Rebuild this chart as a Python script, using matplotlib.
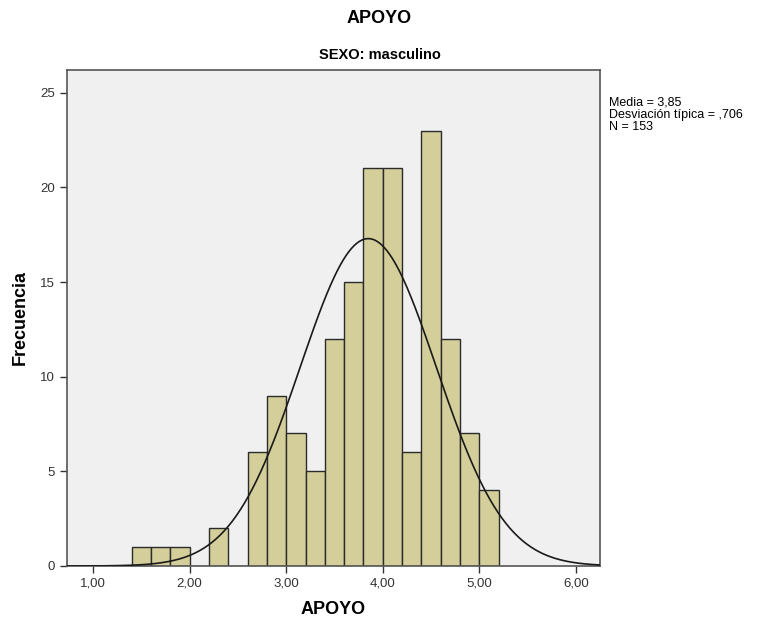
import numpy as np
import matplotlib
matplotlib.use("Agg")
import matplotlib.pyplot as plt

plt.rcParams["font.family"] = ["Liberation Sans", "DejaVu Sans"]

# histogram data (bin left edges, width 0.2)
bin_left = [1.4, 1.6, 1.8, 2.0, 2.2, 2.4, 2.6, 2.8, 3.0, 3.2, 3.4, 3.6,
            3.8, 4.0, 4.2, 4.4, 4.6, 4.8, 5.0]
counts = [1, 1, 1, 0, 2, 0, 6, 9, 7, 5, 12, 15, 21, 21, 6, 23, 12, 7, 4]
bin_width = 0.2
mean = 3.85
sd = 0.706
n = 153
x_ticks = [1, 2, 3, 4, 5, 6]
x_labels = ["1,00", "2,00", "3,00", "4,00", "5,00", "6,00"]
y_ticks = [0, 5, 10, 15, 20, 25]

fig = plt.figure(figsize=(7.59, 6.27), dpi=100)
ax = fig.add_axes([0.0883, 0.0973, 0.7022, 0.7911])
ax.set_facecolor("#f0f0f0")

ax.bar(bin_left, counts, width=bin_width, align="edge",
       color="#d3ce9a", edgecolor="#2b2b2b", linewidth=1.0, zorder=2)

# normal curve scaled to counts
xs = np.linspace(0.7, 6.3, 400)
ys = n * bin_width / (sd * np.sqrt(2 * np.pi)) * np.exp(-0.5 * ((xs - mean) / sd) ** 2)
ax.plot(xs, ys, color="#1a1a1a", linewidth=1.2, zorder=3)

ax.set_xlim(0.73, 6.25)
ax.set_ylim(0, 26.2)
ax.set_xticks(x_ticks)
ax.set_xticklabels(x_labels)
ax.set_yticks(y_ticks)
ax.tick_params(axis="both", labelsize=9.5, colors="#333333", length=5, width=1)
for s in ax.spines.values():
    s.set_color("#555555")
    s.set_linewidth(1.2)

ax.set_xlabel("APOYO", fontsize=13, fontweight="bold", labelpad=8)
ax.set_ylabel("Frecuencia", fontsize=13, fontweight="bold", labelpad=8)

fig.text(0.5, 0.971, "APOYO", ha="center", va="center", fontsize=13, fontweight="bold")
fig.text(0.5, 0.912, "SEXO: masculino", ha="center", va="center", fontsize=10.5, fontweight="bold")

fig.text(0.802, 0.846, "Media = 3,85\nDesviación típica = ,706\nN = 153",
         ha="left", va="top", fontsize=9, linespacing=1.0)

fig.savefig("out.png", dpi=100)
